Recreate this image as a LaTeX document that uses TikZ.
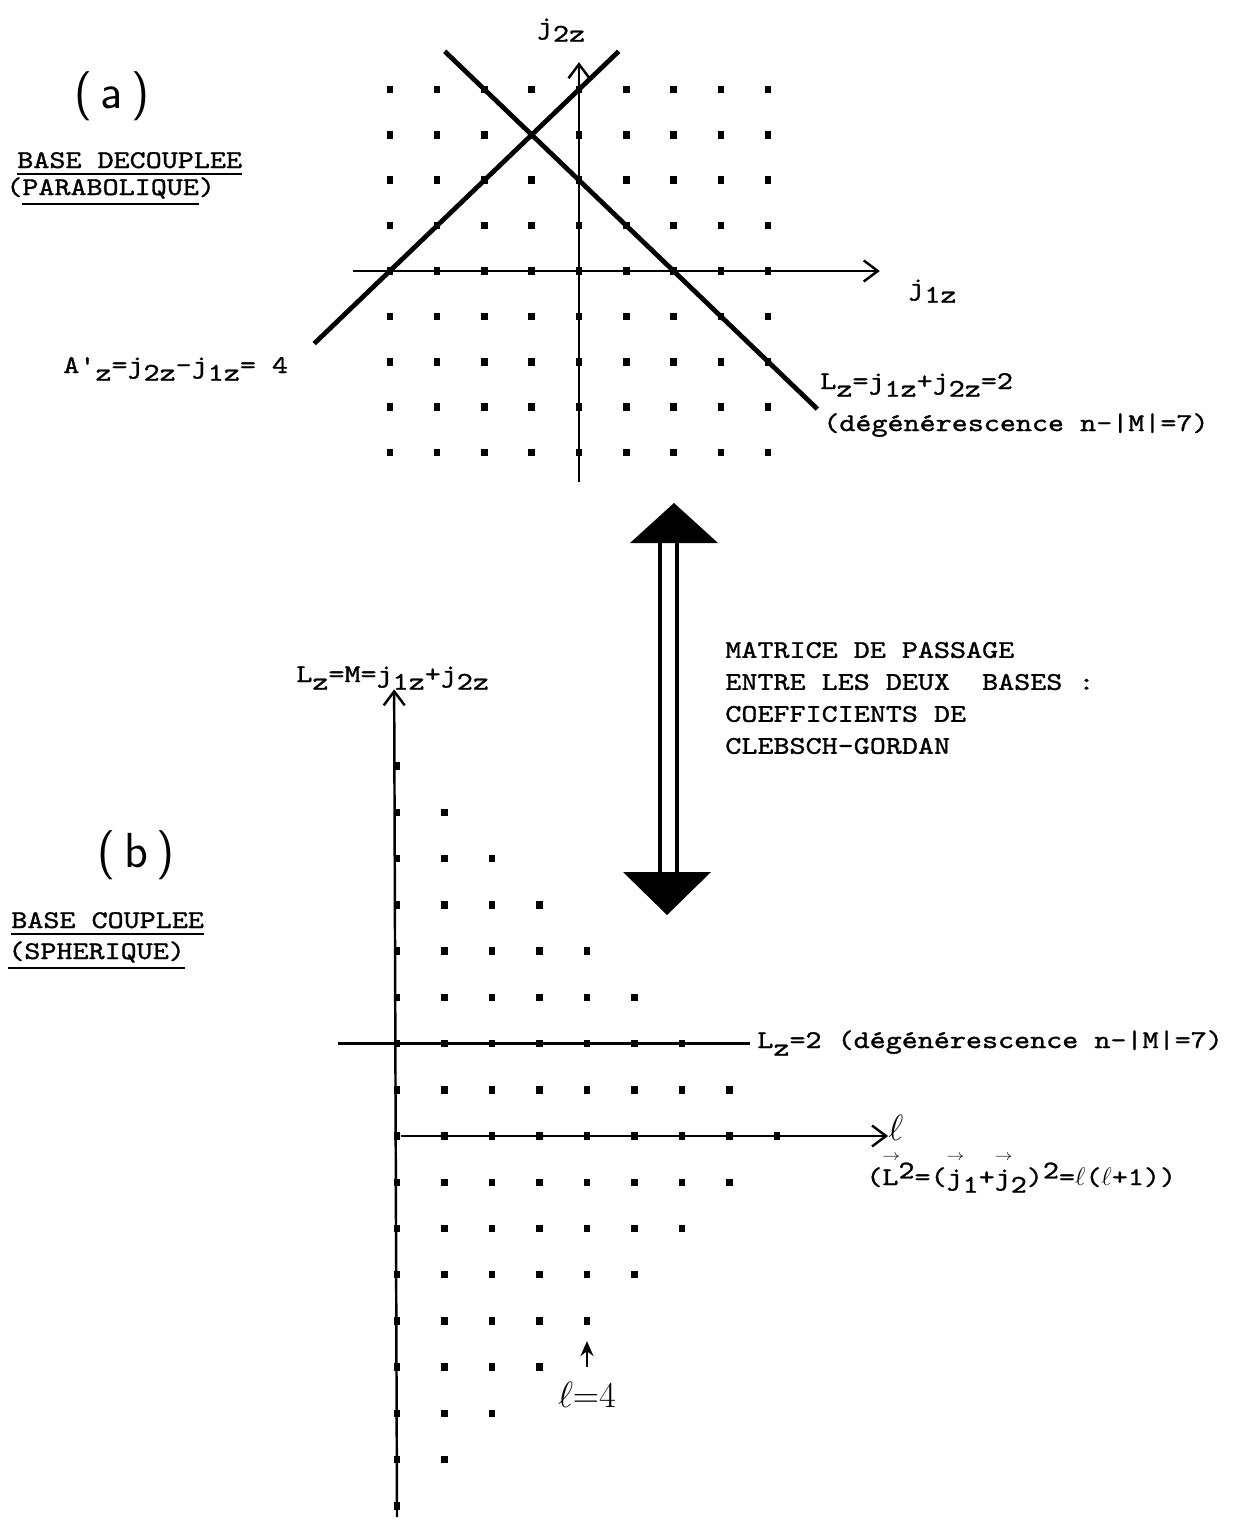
\documentclass[tikz,border=0pt]{standalone}
\usepackage{fontspec}
\usepackage{tikz}
\usetikzlibrary{arrows,arrows.meta,positioning,calc}
\newfontfamily\typew[FakeStretch=1.2,FakeBold=1.2]{lmmono10-regular.otf}
\newcommand{\lo}[1]{\raisebox{-0.7ex}{#1}}
\newcommand{\hi}[1]{\raisebox{0.6ex}{#1}}
\newcommand{\vt}[1]{\leavevmode\rlap{\raisebox{0.95em}{\scalebox{0.7}[0.6]{$\rightarrow$}}}#1}
\newcommand{\undl}[1]{\leavevmode\vtop{\hbox{#1}\kern2.5pt\hrule height 1.1pt}}
\tikzset{
  tw/.style={inner sep=0pt,font=\fontsize{14.5}{18.2}\typew},
  big/.style={inner sep=0pt,font=\fontsize{28}{32}\selectfont\sffamily},
  hand/.style={inner sep=0pt,font=\fontsize{20}{24}\selectfont},
  gdot/.style={rectangle,fill,inner sep=0pt,minimum width=0.13cm,minimum height=0.15cm},
  axisline/.style={line width=1.4pt,-{Straight Barb[length=2.8mm,width=4.2mm]}},
  diag/.style={line width=2.7pt},
  shaft/.style={line width=2.3pt},
  ptr/.style={-{Stealth[length=3mm,width=2.6mm]},line width=1.5pt},
}
\begin{document}
\begin{tikzpicture}[x=0.02cm,y=-0.02cm]
  \useasboundingbox (0,0) rectangle (1253,1521);

  % (a) base decouplee
  \begin{scope}[shift={(579,271)},x=0.946cm,y=0.908cm]
    \coordinate (axL) at (-4.78,0); \coordinate (axR) at (6.36,0);
    \coordinate (axB) at (0,-4.65); \coordinate (axT) at (0,4.6);
    \draw[axisline] (axL) -- (axR);
    \draw[axisline] (axB) -- (axT);
    \foreach \i in {0,...,8}
      \foreach \j in {0,...,8}
        \node[gdot] (a\i\j) at (\i-4,\j-4) {};
    \draw[diag] ($(a04)!-0.4!(a48)$) -- ($(a04)!1.21!(a48)$);
    \draw[diag] ($(a28)!-0.21!(a64)$) -- ($(a28)!1.76!(a64)$);
  \end{scope}
  \node[tw,anchor=base] (jtwo) at (561,34) {j\lo{2z}};
  \node[tw,anchor=base west] (jone) at (908,295) {j\lo{1z}};
  \node[big] (tagA) at (112,96) {(\,a\,)};
  \node[tw,anchor=base west] (baseA) at (17,168) {\undl{BASE DECOUPLEE}};
  \node[tw,anchor=base west] (paraA) at (6,195) {(\undl{PARABOLIQUE})};
  \node[tw,anchor=base west] (aprime) at (63,373) {A'\lo{z}=j\lo{2z}-j\lo{1z}= 4};
  \node[tw,anchor=base west] (lzA) at (820,389) {L\lo{z}=j\lo{1z}+j\lo{2z}=2};
  \node[tw,anchor=base west] (degA) at (823,431) {(dégénérescence n-|M|=7)};

  % matrice de passage
  \coordinate (tipU) at (674,503);
  \coordinate (tipD) at (667,915);
  \fill (tipU) -- ++(44,40) -- ++(-88,0) -- cycle;
  \fill (tipD) -- ++(44,-43) -- ++(-88,0) -- cycle;
  \draw[shaft] ($(tipU)+(-14,38)$) -- ($(tipD)+(-7,-41)$);
  \draw[shaft] ($(tipU)+(3,38)$) -- ($(tipD)+(10,-41)$);
  \node[tw,align=left,anchor=west] (mat) at (725,698)
    {MATRICE DE PASSAGE\\ENTRE LES DEUX~ BASES :\\COEFFICIENTS DE\\CLEBSCH-GORDAN};

  % (b) base couplee
  \begin{scope}[shift={(397,1136)},x=0.95cm,y=0.925cm]
    \coordinate (mB) at (0,-8.24); \coordinate (mT) at (-0.06,9.66);
    \coordinate (lR) at (10.34,0);
    \coordinate (lzl) at (-1.24,2); \coordinate (lzr) at (7.43,2);
    \draw[axisline] (mB) -- (mT);
    \draw[line width=1.4pt] (lzl) -- (lzr);
    \foreach \m in {-8,...,8}{
      \pgfmathtruncatemacro\cmax{8-abs(\m)}
      \pgfmathtruncatemacro\rr{\m+8}
      \foreach \c in {0,...,\cmax}
        \node[gdot] (b\c-\rr) at (\c,\m) {};
    }
    \draw[axisline] (b0-8) -- (lR);
  \end{scope}
  \node[big] (tagB) at (136,855) {(\,b\,)};
  \node[tw,anchor=base west] (baseB) at (11,928) {\undl{BASE COUPLEE}};
  \node[tw,anchor=base west] (sphB) at (8,959) {\undl{(SPHERIQUE)}};
  \node[tw,anchor=base west] (lzM) at (296,682) {L\lo{z}=M=j\lo{1z}+j\lo{2z}};
  \node[tw,anchor=base west] (lzB) at (757,1048) {L\lo{z}=2 (dégénérescence n-|M|=7)};
  \node[hand,anchor=base west,font=\fontsize{22}{26}\selectfont] (ell) at (888,1140) {$\ell$};
  \node[tw,anchor=base west] (casimir) at (866,1185)
    {(\vt{L}\hi{2}=(\vt{j}\lo{1}+\vt{j}\lo{2})\hi{2}=$\ell$($\ell$+1))};
  \node[hand,below=1.14cm of b4-4] (lfour) {$\ell{=}4$};
  \draw[ptr,shorten <=0.3cm,shorten >=0.32cm] (lfour) -- (b4-4);
\end{tikzpicture}
\end{document}
